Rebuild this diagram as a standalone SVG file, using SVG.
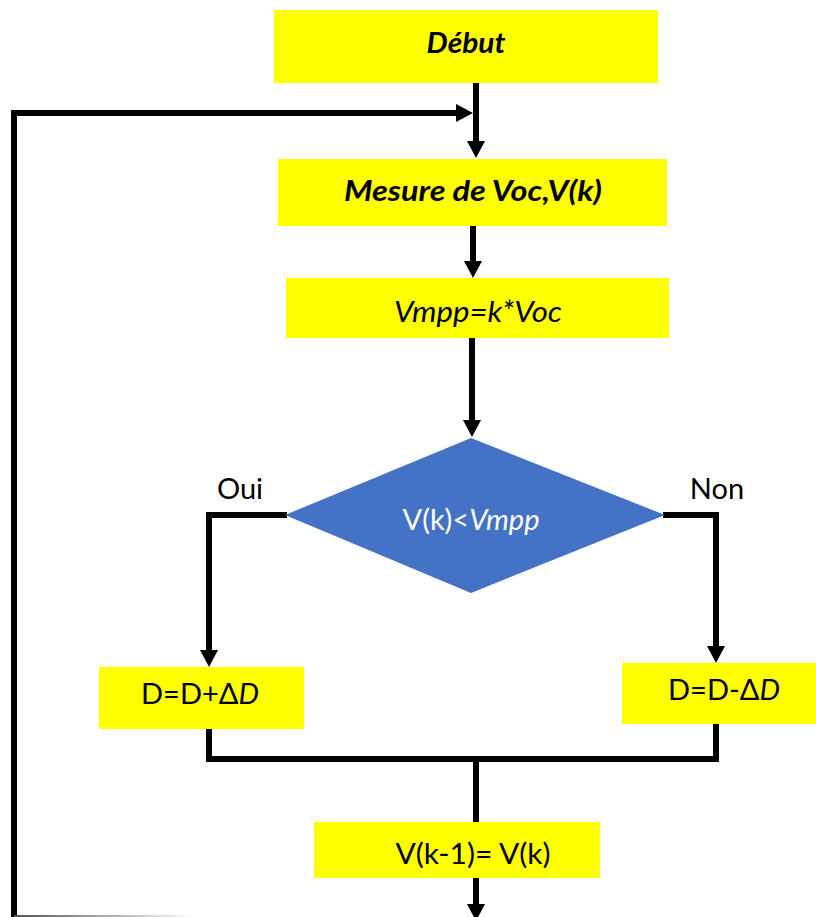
<svg xmlns="http://www.w3.org/2000/svg" width="816" height="917" viewBox="0 0 816 917">
<style>
.box{fill:#FFFF00}
.dia{fill:#4472C4}
.t{font-family:Lato,"Liberation Sans",sans-serif;font-size:29px;fill:#000}
.b{font-weight:bold;font-style:italic}
.i{font-style:italic}
.w{fill:#fff}
.c{fill:none;stroke:#000;stroke-width:6}
</style>
<defs>
<marker id="ah" markerUnits="userSpaceOnUse" markerWidth="18" markerHeight="18" refX="3" refY="9" orient="auto">
<path d="M0,0 L17,9 L0,18 z" fill="#000"/>
</marker>
<linearGradient id="fade" x1="0" y1="0" x2="1" y2="0">
<stop offset="0" stop-color="#555"/>
<stop offset="1" stop-color="#fff"/>
</linearGradient>
</defs>
<rect width="816" height="917" fill="#fff"/>
<g id="connectors">
<path class="c" d="M476,83 V144" marker-end="url(#ah)"/>
<path class="c" d="M14,920 V113 H459" marker-end="url(#ah)"/>
<path class="c" d="M473,226 V264" marker-end="url(#ah)"/>
<path class="c" d="M472,338 V423" marker-end="url(#ah)"/>
<path class="c" d="M287,515 H209 V653" marker-end="url(#ah)"/>
<path class="c" d="M663,515 H716 V649" marker-end="url(#ah)"/>
<path class="c" d="M209,729 V759 H716 V724"/>
<path class="c" d="M476,759 V822"/>
<path class="c" d="M476,878 V907" marker-end="url(#ah)"/>
<rect x="14" y="915" width="180" height="2" fill="url(#fade)"/>
</g>
<g id="debut">
<rect class="box" x="274" y="10" width="384" height="73"/>
<text class="t b" x="466" y="53" text-anchor="middle" textLength="79" lengthAdjust="spacingAndGlyphs">Début</text>
</g>
<g id="mesure">
<rect class="box" x="278" y="159" width="389" height="67"/>
<text class="t b" x="473" y="201" text-anchor="middle" textLength="258" lengthAdjust="spacingAndGlyphs">Mesure de Voc,V(k)</text>
</g>
<g id="vmpp">
<rect class="box" x="286" y="278" width="383" height="60"/>
<text class="t i" x="478" y="322" text-anchor="middle" textLength="168" lengthAdjust="spacingAndGlyphs">Vmpp=k*Voc</text>
</g>
<g id="decision">
<polygon class="dia" points="471,438 665,515 471,593 285,515"/>
<text class="t w" x="471" y="530" text-anchor="middle">V(k)&lt;<tspan class="i">Vmpp</tspan></text>
</g>
<g id="labels">
<text class="t" x="240" y="499" text-anchor="middle">Oui</text>
<text class="t" x="717" y="499" text-anchor="middle">Non</text>
</g>
<g id="plus">
<rect class="box" x="99" y="667" width="205" height="62"/>
<text class="t" x="200" y="704" text-anchor="middle">D=D+Δ<tspan class="i">D</tspan></text>
</g>
<g id="minus">
<rect class="box" x="622" y="663" width="194" height="61"/>
<text class="t" x="724" y="700" text-anchor="middle">D=D-Δ<tspan class="i">D</tspan></text>
</g>
<g id="update">
<rect class="box" x="314" y="822" width="286" height="56"/>
<text class="t" x="473" y="864" text-anchor="middle" textLength="155" lengthAdjust="spacingAndGlyphs">V(k-1)= V(k)</text>
</g>
</svg>
